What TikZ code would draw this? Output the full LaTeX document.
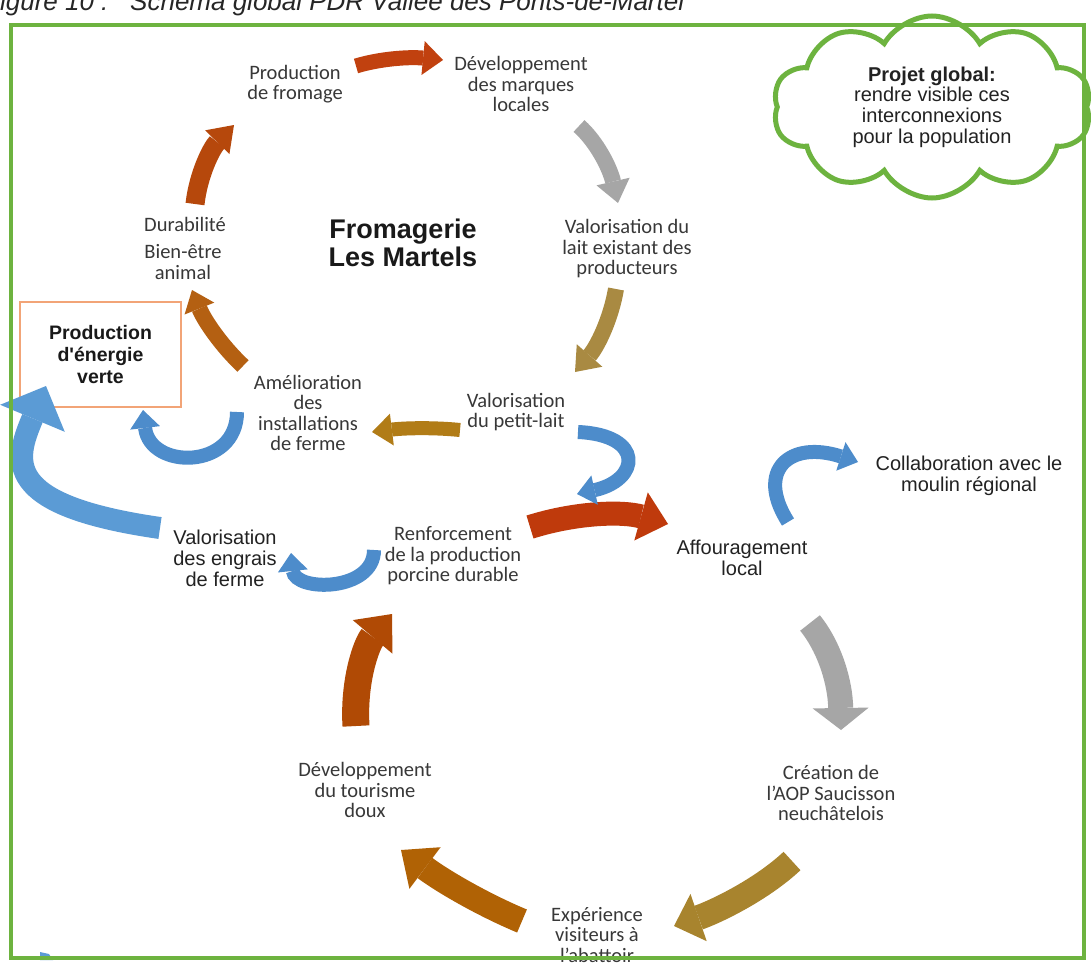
\documentclass[tikz,border=0pt]{standalone}
\usepackage{fontspec}
\setmainfont{Carlito}
\newfontfamily\arial{Liberation Sans}
\usetikzlibrary{arrows.meta,shapes.symbols}
\definecolor{frgreen}{HTML}{6DB33F}
\definecolor{boxorange}{HTML}{F2A477}
\definecolor{labgray}{HTML}{383838}
\definecolor{labdark}{HTML}{222222}
\definecolor{redA}{HTML}{C1410F}
\definecolor{bigred}{HTML}{BF3A0C}
\definecolor{grayA}{HTML}{A6A6A6}
\definecolor{tanA}{HTML}{A98A42}
\definecolor{tanB}{HTML}{A8842E}
\definecolor{goldA}{HTML}{B17C17}
\definecolor{orangeA}{HTML}{B46012}
\definecolor{orangeB}{HTML}{B06205}
\definecolor{rbrownA}{HTML}{B6480C}
\definecolor{rbrownB}{HTML}{B04A05}
\definecolor{blueA}{HTML}{5B9BD5}
\definecolor{blueU}{HTML}{4D8CCB}
\begin{document}
\begin{tikzpicture}[x=1pt,y=-1pt,
  lab/.style={align=center,inner sep=0pt,text=labgray,font=\fontsize{20.5}{20.5}\selectfont},
  alab/.style={align=center,inner sep=0pt,text=labdark,font=\arial\fontsize{20}{21}\selectfont},
  arr/.style n args={4}{draw=#1,line width=#2,-{Triangle[length=#3,width=#4,line width=0pt]}},
]
\useasboundingbox (0,0) rectangle (1091,963);
\clip (0,0) rectangle (1091,963);
\fill[white] (0,0) rectangle (1091,963);

% caption (cut off at the top)
\node[anchor=base west,inner sep=0pt,text=black!85,font=\arial\itshape\fontsize{26}{26}\selectfont] (capa) at (-16,11) {Figure 10 :};
\node[anchor=base west,inner sep=0pt,text=black!85,font=\arial\itshape\fontsize{26}{26}\selectfont] (capb) at (130,11) {Schéma global PDR Vallée des Ponts-de-Martel};

% cloud
\node[cloud,cloud puffs=10,cloud puff arc=120,aspect=1.75,draw=frgreen,line width=5pt,fill=white,
  minimum width=318pt,minimum height=182pt,inner sep=0pt,align=center,text=labdark,
  font=\arial\fontsize{20}{20.7}\selectfont] (cloud) at (932,107)
  {\textbf{Projet global:}\\rendre visible ces\\interconnexions\\pour la population};

% labels
\node[lab] (prod) at (295,84) {Production\\de fromage};
\node[lab] (dev) at (521,84) {Développement\\des marques\\locales};
\node[lab] (vlait) at (627,249) {Valorisation du\\lait existant des\\producteurs};
\node[lab] (vpl) at (516,412) {Valorisation\\du petit-lait};
\node[lab] (amel) at (308,413) {Amélioration\\des\\installations\\de ferme};
\node[lab] (dura) at (185,224) {Durabilité};
\node[lab] (bien) at (183,262) {Bien-être\\animal};
\node[align=center,inner sep=0pt,text=black!90,font=\arial\bfseries\fontsize{27}{28}\selectfont] (from) at (403,243) {Fromagerie\\Les Martels};
\node[draw=boxorange,line width=1.5pt,minimum width=161pt,minimum height=105pt,align=center,inner sep=0pt,
  text=black!90,font=\arial\bfseries\fontsize{19.5}{22}\selectfont] (ener) at (100.5,354.5) {Production\\d'énergie\\verte};
\node[alab] (engr) at (225,558) {Valorisation\\des engrais\\de ferme};
\node[lab] (renf) at (453,556) {Renforcement\\de la production\\porcine durable};
\node[alab] (affo) at (742,558) {Affouragement\\local};
\node[alab] (coll) at (969,476) {Collaboration avec le\\moulin régional};
\node[lab] (aop) at (831,793) {Création de\\l'AOP Saucisson\\neuchâtelois};
\node[lab] (exp) at (597,935) {Expérience\\visiteurs à\\l'abattoir};
\node[lab] (tour) at (365,790) {Développement\\du tourisme\\doux};

% arrow end points
\coordinate (a1s) at (356,66);  \coordinate (a1e) at (443,60);
\coordinate (a2s) at (579,126); \coordinate (a2e) at (618,203);
\coordinate (a3s) at (616,289); \coordinate (a3e) at (575,372);
\coordinate (a4s) at (460,430); \coordinate (a4e) at (372,432);
\coordinate (a5s) at (243,366); \coordinate (a5e) at (192,290);
\coordinate (a6s) at (195,204); \coordinate (a6e) at (234,125);
\coordinate (rs) at (530,527);  \coordinate (re) at (668,524);
\coordinate (a7s) at (810,623); \coordinate (a7e) at (841,730);
\coordinate (a10s) at (792,861); \coordinate (a10e) at (674,926);
\coordinate (a8s) at (522,921); \coordinate (a8e) at (401,850);
\coordinate (a9s) at (356,726); \coordinate (a9e) at (392,614);
\coordinate (b1s) at (237,412); \coordinate (b1e) at (143,410);
\coordinate (b2s) at (160,528); \coordinate (b2e) at (46,386);
\coordinate (b3s) at (374,550); \coordinate (b3e) at (291,553);
\coordinate (b4s) at (578,432); \coordinate (b4e) at (577,494);
\coordinate (b5s) at (788,522); \coordinate (b5e) at (858,462);

% upper cycle
\draw[arr={redA}{15pt}{20pt}{34pt}] (a1s) .. controls (380,58.7) and (409,56.7) .. (a1e);
\draw[arr={grayA}{16pt}{22pt}{34pt}] (a2s) .. controls (597,142) and (610,168.3) .. (a2e);
\draw[arr={tanA}{16pt}{22pt}{34pt}] (a3s) .. controls (610.7,319.7) and (597,347) .. (a3e);
\draw[arr={goldA}{14pt}{20pt}{32pt}] (a4s) .. controls (433.3,427.3) and (404.7,428) .. (a4e);
\draw[arr={orangeA}{16pt}{20pt}{32pt}] (a5s) .. controls (221,345.3) and (204,320) .. (a5e);
\draw[arr={rbrownA}{19pt}{24pt}{34pt}] (a6s) .. controls (198.3,174.7) and (211.3,148.3) .. (a6e);

% lower cycle
\draw[arr={bigred}{24pt}{28pt}{50pt}] (rs) .. controls (576.7,512.3) and (622.7,511.3) .. (re);
\draw[arr={grayA}{25pt}{22pt}{56pt}] (a7s) .. controls (830,647.7) and (840.3,683.3) .. (a7e);
\draw[arr={tanB}{25pt}{26pt}{50pt}] (a10s) .. controls (760.7,890.3) and (714.7,912) .. (a10e);
\draw[arr={orangeB}{25pt}{30pt}{52pt}] (a8s) .. controls (480.7,903.7) and (441,880) .. (a8e);
\draw[arr={rbrownB}{27pt}{30pt}{52pt}] (a9s) .. controls (353.3,682) and (366,644.7) .. (a9e);

% blue arrows
\draw[arr={blueU}{14pt}{18pt}{30pt}] (b1s) .. controls (237,470) and (150,470) .. (b1e);
\draw[arr={blueA}{22pt}{35pt}{70pt}] (b2s) .. controls (0,505) and (15,460) .. (b2e);
\draw[arr={blueU}{14pt}{18pt}{30pt}] (b3s) .. controls (374,592) and (295,592) .. (b3e);
\draw[arr={blueU}{14pt}{18pt}{30pt}] (b4s) .. controls (645,435) and (640,480) .. (b4e);
\draw[arr={blueU}{14pt}{18pt}{30pt}] (b5s) .. controls (755,470) and (790,440) .. (b5e);

% small blue mark at the bottom left
\fill[blueA] (40,952) -- (49,954) -- (53,960) -- (40,960) -- cycle;

% frame
\draw[frgreen,line width=4.5pt] (11,25) rectangle (1084,958);
\end{tikzpicture}
\end{document}
